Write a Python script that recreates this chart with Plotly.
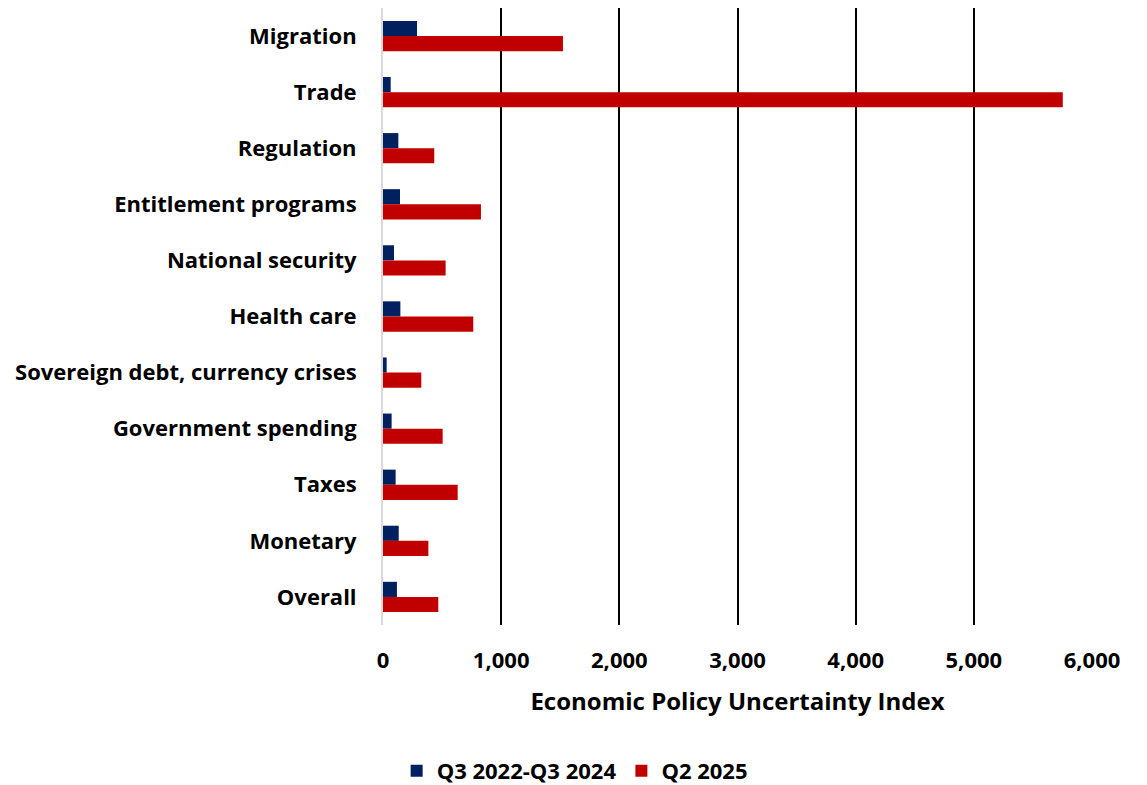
import plotly.graph_objects as go

categories = [
    "Migration", "Trade", "Regulation", "Entitlement programs",
    "National security", "Health care", "Sovereign debt, currency crises",
    "Government spending", "Taxes", "Monetary", "Overall",
]
baseline_2022_2024 = [288, 65, 130, 144, 93, 147, 31, 73, 107, 133, 118]
q2_2025 = [1523, 5753, 434, 829, 530, 764, 324, 505, 632, 384, 468]

FONT = "Open Sans"

fig = go.Figure()
fig.add_trace(go.Bar(
    y=categories, x=baseline_2022_2024, orientation="h",
    name="Q3 2022-Q3 2024", marker=dict(color="#002060", line=dict(width=0)),
))
fig.add_trace(go.Bar(
    y=categories, x=q2_2025, orientation="h",
    name="Q2 2025", marker=dict(color="#C00000", line=dict(width=0)),
))

fig.update_layout(
    width=1147, height=785,
    margin=dict(l=383, r=55, t=8, b=160, autoexpand=False),
    plot_bgcolor="white", paper_bgcolor="white",
    barmode="group", bargap=0.46, bargroupgap=0,
    font=dict(family=FONT, color="black"),
    showlegend=True,
    legend=dict(
        orientation="h", xref="container", x=0.501, xanchor="center",
        yref="container", y=0.018, yanchor="middle",
        font=dict(family=FONT, size=22, weight="bold"),
        itemwidth=30, tracegroupgap=0,
    ),
)
fig.update_xaxes(
    range=[0, 6000], dtick=1000, tickformat=",d",
    showgrid=True, gridcolor="black", gridwidth=2,
    zeroline=False, showline=False, automargin=False,
    ticks="", ticklabelstandoff=20,
    tickfont=dict(family=FONT, size=22, weight="bold"),
    title=dict(text="Economic Policy Uncertainty Index", standoff=20,
               font=dict(family=FONT, size=24, weight="bold")),
)
fig.update_yaxes(
    autorange="reversed", automargin=False,
    showline=True, linecolor="#D9D9D9", linewidth=2,
    showgrid=False, ticks="", ticklabelstandoff=20,
    tickfont=dict(family=FONT, size=22, weight="bold"),
)

fig.write_html("out.html")
